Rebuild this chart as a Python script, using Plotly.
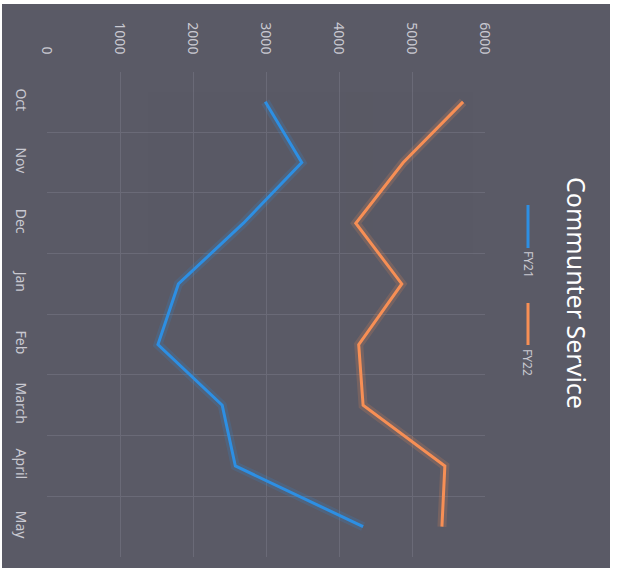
import plotly.graph_objects as go

months = ["Oct", "Nov", "Dec", "Jan", "Feb", "March", "April", "May"]
fy21 = [2990, 3490, 2690, 1800, 1520, 2400, 2580, 4330]
fy22 = [5700, 4880, 4230, 4860, 4270, 4330, 5450, 5410]
value_ticks = [0, 1000, 2000, 3000, 4000, 5000, 6000]

W, H = 620, 575
BG = "#5a5a66"
GRID = "#6a6a77"
LABEL = "#c9c9d1"
BLUE = "#2d8fe3"
ORANGE = "#f78f55"
FONT = "Noto Sans"

def px(x):
    return x / W

def py(y):
    return 1 - y / H

fig = go.Figure()
for vals, col, name in [(fy21, BLUE, "FY21"), (fy22, ORANGE, "FY22")]:
    fig.add_trace(go.Scatter(x=vals, y=months, mode="lines", line=dict(color=col, width=9),
                             opacity=0.18, showlegend=False, hoverinfo="skip"))
    fig.add_trace(go.Scatter(x=vals, y=months, mode="lines", line=dict(color=col, width=3),
                             name=name, showlegend=False))

fig.update_layout(
    width=W, height=H,
    margin=dict(l=0, r=0, t=0, b=0),
    paper_bgcolor="white",
    plot_bgcolor="rgba(0,0,0,0)",
    font=dict(family=FONT, color=LABEL, size=14),
    showlegend=False,
    xaxis=dict(domain=[px(47), px(485)], range=[0, 6000], side="top",
               tickvals=value_ticks, ticktext=[str(v) for v in value_ticks],
               tickangle=90, showgrid=True, gridcolor=GRID, gridwidth=1,
               zeroline=False, showline=False, ticks="", ticklabelstandoff=14,
               automargin=False, tickfont=dict(size=14, color=LABEL)),
    yaxis=dict(domain=[py(557), py(71.5)], type="category", categoryarray=months,
               range=[7.5, -0.5], tickson="boundaries", showgrid=True, gridcolor=GRID,
               gridwidth=1, zeroline=False, showline=False, ticks="", tickangle=90,
               ticklabelstandoff=16, automargin=False, tickfont=dict(size=14, color=LABEL)),
    shapes=[
        dict(type="rect", xref="paper", yref="paper", x0=px(2), x1=px(610),
             y0=py(568), y1=py(4), fillcolor=BG, line=dict(width=0), layer="below"),
        dict(type="line", xref="paper", yref="paper", x0=px(528), x1=px(528),
             y0=py(205), y1=py(248), line=dict(color=BLUE, width=3)),
        dict(type="line", xref="paper", yref="paper", x0=px(528), x1=px(528),
             y0=py(303), y1=py(345), line=dict(color=ORANGE, width=3)),
    ],
    annotations=[
        dict(text="Communter Service", xref="paper", yref="paper", x=px(577), y=py(293),
             showarrow=False, textangle=90, font=dict(size=25, color="white", family=FONT),
             xanchor="center", yanchor="middle"),
        dict(text="FY21", xref="paper", yref="paper", x=px(528), y=py(264),
             showarrow=False, textangle=90, font=dict(size=12, color=LABEL, family=FONT),
             xanchor="center", yanchor="middle"),
        dict(text="FY22", xref="paper", yref="paper", x=px(528), y=py(362),
             showarrow=False, textangle=90, font=dict(size=12, color=LABEL, family=FONT),
             xanchor="center", yanchor="middle"),
    ],
)

fig.write_html("out.html")
